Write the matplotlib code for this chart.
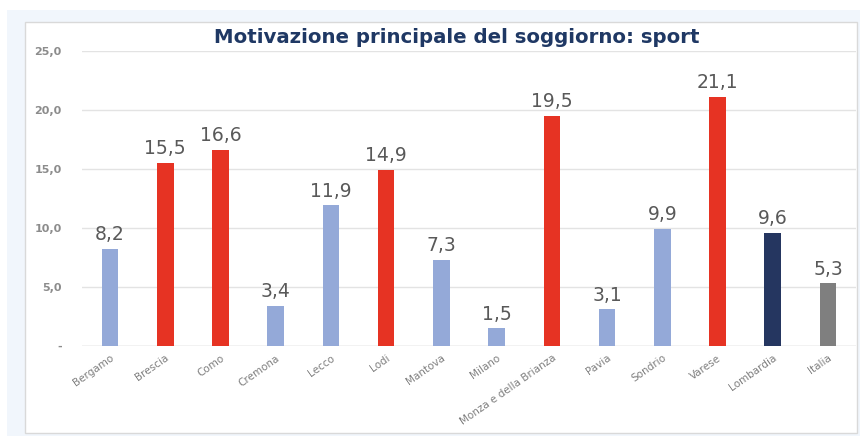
import matplotlib.pyplot as plt
from matplotlib.patches import Rectangle

# data
provinces = ['Bergamo', 'Brescia', 'Como', 'Cremona', 'Lecco', 'Lodi', 'Mantova',
             'Milano', 'Monza e della Brianza', 'Pavia', 'Sondrio', 'Varese',
             'Lombardia', 'Italia']
values = [8.2, 15.5, 16.6, 3.4, 11.9, 14.9, 7.3, 1.5, 19.5, 3.1, 9.9, 21.1, 9.6, 5.3]
colors = ['#94a9d8', '#e63323', '#e63323', '#94a9d8', '#94a9d8', '#e63323', '#94a9d8',
          '#94a9d8', '#e63323', '#94a9d8', '#94a9d8', '#e63323', '#253660', '#7f7f7f']
yticks = [0, 5, 10, 15, 20, 25]
ytick_labels = ['-', '5,0', '10,0', '15,0', '20,0', '25,0']

fig = plt.figure(figsize=(8.67, 4.36), dpi=100)
fig.patch.set_facecolor('white')

# outer light blue frame and white chart box
fig.add_artist(Rectangle((7 / 867, 0), 853 / 867, 1 - 10 / 436, transform=fig.transFigure,
                         facecolor='#f1f6fc', edgecolor='none', zorder=0))
fig.add_artist(Rectangle((25 / 867, 3 / 436), 832 / 867, 1 - 25 / 436, transform=fig.transFigure,
                         facecolor='white', edgecolor='#d9d9d9', linewidth=1, zorder=0))

ax = fig.add_axes([82.4 / 867, 0.2064, (855.6 - 82.4) / 867, 0.8837 - 0.2064])
ax.set_facecolor('none')

x = range(len(provinces))
bars = ax.bar(x, values, width=0.3, color=colors, zorder=3)

for bar, v in zip(bars, values):
    ax.text(bar.get_x() + bar.get_width() / 2, v + 0.4, f'{v:.1f}'.replace('.', ','),
            ha='center', va='bottom', fontsize=13.5, color='#595959')

ax.set_xlim(-0.5, len(provinces) - 0.5)
ax.set_ylim(0, 25)
ax.set_yticks(yticks)
ax.set_yticklabels(ytick_labels, fontsize=8, fontweight='bold', color='#8c8c8c')
ax.set_xticks(list(x))
ax.set_xticklabels(provinces, rotation=35, ha='right', rotation_mode='anchor',
                   fontsize=7.5, color='#7f7f7f')
ax.tick_params(length=0)
ax.tick_params(axis='y', pad=15)
ax.tick_params(axis='x', pad=5)
ax.grid(axis='y', color='#e3e3e3', linewidth=1, zorder=0)
for s in ax.spines.values():
    s.set_visible(False)
ax.axhline(0, color='#d9d9d9', linewidth=1, zorder=2)

fig.text(0.527, 0.913, 'Motivazione principale del soggiorno: sport', ha='center', va='center',
         fontsize=14.2, fontweight='bold', color='#1f3864')

fig.savefig('out.png', dpi=100)
